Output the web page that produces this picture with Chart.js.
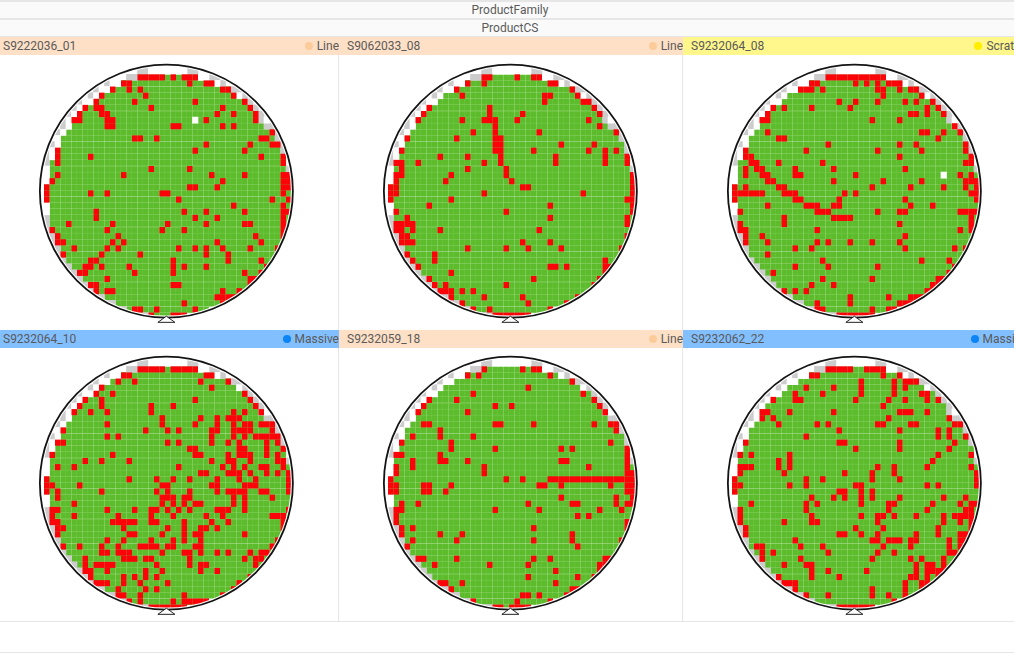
<!DOCTYPE html>
<html><head><meta charset="utf-8">
<script src="https://cdn.jsdelivr.net/npm/chart.js@4"></script>
<style>
html,body{margin:0;padding:0;background:#fff;width:1014px;height:653px;overflow:hidden;font-family:Roboto,sans-serif;color:#5a5a5a;font-size:12px}
#page{position:relative;width:1014px;height:653px;overflow:hidden}
.strip{position:absolute;left:0;width:1020px;height:17px;line-height:17px;text-align:center;background:#fafafa;border-top:1px solid #e6e6e6;box-sizing:content-box}
.head{position:absolute;height:18px;line-height:18px;z-index:3;overflow:hidden}
.head .id{position:absolute;top:0}
.head .tag{position:absolute;right:0;top:0;white-space:nowrap}
.head .dot{display:inline-block;width:8px;height:8px;border-radius:50%;margin-right:4px;vertical-align:0}
.vsep{position:absolute;width:1px;background:#e6e6e6;z-index:2}
.hsep{position:absolute;left:0;width:1014px;height:1px;background:#e6e6e6;z-index:2}
canvas{position:absolute;display:block}
</style></head><body><div id="page"></div>
<script>
const familyTitle = 'ProductFamily';
const csTitle = 'ProductCS';
const waferIds = ['S9222036_01','S9062033_08','S9232064_08','S9232064_10','S9232059_18','S9232062_22'];
const waferClasses = ['Line','Line','Scratch','Massive','Line','Massive'];
const classHeadColor = {Line:'#fee0c6',Scratch:'#fff68c',Massive:'#82bfff'};
const classDotColor = {Line:'#fccb9a',Scratch:'#ffee00',Massive:'#0b84f5'};

// Die map layout: first and last die column of each row (row 0 has only edge dies)
const rowStart = [null,17,14,12,10,9,7,6,5,5,4,3,3,2,2,1,1,1,1,0,0,0,1,1,1,1,1,2,2,3,3,4,5,6,7,8,9,11,13,15,19];
const rowEnd   = [null,27,30,33,34,36,37,38,38,39,41,41,42,42,43,43,43,44,44,44,44,44,44,44,44,44,43,43,43,42,42,41,40,40,38,37,36,34,32,29,25];
// Edge dies per row
const greyDies = [[17,18,26,27],[15,16,30,31],[11,32],[9,34,35],[8,36],[6,37],[5,38],[4,39],[3,39],[3,40,41],[2,42],[42],[1,43],[0,43],[0],[0],[44],[],[],[],[],[],[],[],[0],[0],[0],[0,1],[1],[1,2],[2],[3],[4],[5],[6],[7],[8],[9,10],[11,12],[13,14],[16,17,18]];
const whiteDies = [[19,20,21,22,23,24,25],[28,29],[12,13,31],[10,11],[9,35],[7,8],[6],[5],[4,40],[4],[3],[2],[2],[1],[1],[],[0],[0],[0],[],[],[],[0],[0],[],[],[],[],[],[],[],[],[],[],[],[],[],[],[],[],[]];
const extraWhite = [[[8,27]],[],[[17,38]],[],[],[]];

// Failing dies: column numbers per row, rows 0..40
const fail1 = [[],[17,18,19,20,21,23,25,26,27],[14,15,26,29,30],[12,15,17,32,33],[10,18,34],[9,16,27,36],[7,9,10,19,32,37],[6,10,11,31,34,38],[5,6,11,12,29,38],[11,12,23,24,32,34],[41],[16,17,20,39,40],[29,37,41,42],[2,27,36],[2,8,39,43],[2,43],[19,26],[2,14,30,36,43,44],[1,32,43,44],[0,26,27,31,43,44],[0,8,11,21,22,43],[0,24,41,44],[34,43],[9,25,29,36,43,44],[9,27,31,43],[4,12,22,29,36,37,43],[1,11,21,25,43],[2,13,38,43],[2,3,12,14,31,39],[5,11,13,24,27,29,32,37,42],[3,10,17,29,33],[8,9,23,33,39],[7,8,10,15,23,25,29,40],[6,7,16,23,36,39],[11,37,38],[8,9,23,24,37],[9,11,12,32,35],[31,32,33,34],[25,32],[16,17,20,27],[19,23,24,25]];
const fail2 = [[],[17,18,23,26,27],[14,17,29,30],[12,33],[13,28,29,34],[28,35,36],[7,18,37],[6,18,24,38],[5,13,17,18,19,23,36],[19,38],[15,19,27,41],[3,12,19,20],[19,20,31,37],[2,19,20,26,36,39,41],[9,14,20,30,39,43],[1,2,5,17,20,30,39,43],[2,14,21],[1,2,11,21,44],[1,10,22,44],[0,1,24,25,44],[0,1,17,35,44],[0,11,43,44],[7,29,44],[1,21,44],[3,29,43],[1,2,3,4,43],[1,2,4,9,27],[2,3,43],[2,3,4,24,29],[14,21,25,31,42],[3,8],[4,8,39],[5,29,30,32,39,40],[11,39],[7,26,38],[8,10,21,37],[9,10,11,13,15],[11,17,24,34],[13,25,32],[15,18,29],[19,20,21,22,23,24,25]];
const fail3 = [[],[17,18,19,20,21,22,23,24,25,26,27],[14,15,22,24,26,28,29,30],[12,13,14,16,26,27,30,32,33],[27,34],[19,22,26,31,33,36],[7,9,14,21,35,37],[6,32,33,35,38],[5,6,25,30],[40],[6,34,35,38,41],[8,9,37],[17,30,33,42],[2,13,26,34,42],[2,3,30,43],[3,4,8,16,42,43],[2,4,5,11,18,31],[2,5,6,11,12,22,41,43],[6,7,18,27,34,42,43,44],[0,2,8,9,25,32,38,42,44],[0,1,2,3,4,5,9,10,11,20,22,43,44],[0,11,12,19,31,44],[6,13,14,15,18,19,32,36],[1,15,16,17,26,30,31,41,42,43,44],[9,18,19,20,21,43],[1,9,30,43],[1,2,15,41,43],[2,5,31],[2,6,15,17,21,25,30],[11,14,31,40,42],[6],[16,34,39],[11,17,26,40],[7,39],[16,25,37,38],[14,18,36,37],[9,11,13,35,36],[21,28,32,33,34],[15,21,30,31,32,33],[15,16,25,28,29],[19,20,21,22,23,24,25]];
const fail4 = [[],[17,18,19,20,21,23,24,25,26,27],[14,15,29,30],[13,16,28,33],[10,30],[9,12,36],[7,10,27,37],[6,10,19,23,38],[5,8,11,19,34,36,39],[21,28,31,33,34,35],[11,21,27,31,34,36,37,39,40,41],[3,18,22,24,30,31,34,35,36,37,41],[11,13,30,34,36,38,39,40,41,42],[2,3,22,24,30,33,35,40,42],[26,27,35,36,40,43],[1,12,27,28,33,35,36,37,40,42],[7,10,15,30,33,34,37,42,43],[2,5,24,32,34,36,39,40,43],[28,29,33,34,35,37,40,42,44],[0,15,20,23,26,31,35,38,44],[0,1,6,21,22,30,31,36,37,38,44],[0,2,10,20,22,26,31,33,34,35,36,39,40,44],[2,21,22,23,25,26,34,36,41],[5,21,23,25,27,28,34,36],[1,2,11,16,19,20,22,24,26,31,32,33,36,44],[1,5,13,19,23,29,32,41,42,43],[1,2,12,13,14,15,16,19,20,25,30,33,43],[2,3,14,22,25,28,29,31,43],[2,15,16,21,25,27,28,36],[11,14,19,23,25,28,42],[3,6,10,13,17,18,19,20,22,23,27,28,41],[10,11,13,14,15,21,25,26,28,31,33,37,39,40],[7,14,15,16,18,19,26,36,38,39],[7,9,10,11,12,20,26,28,29,38],[7,8,11,18,21,28,31],[8,14,16,18,20,37],[9,10,11,14,17,22,35],[13,18,20,34],[13,14,17,25,32],[15,17,23,25,26,27,28,29],[19,20,21,22,23,24,25]];
const fail5 = [[],[17,24,26,27],[14,16,29],[33],[25],[15,35],[7,12,37],[6,19,22,38],[5,14,39],[],[6,7,19,20,26,37,40,41],[9,41],[4,9,15],[2,11,40],[11,19,31,33,43],[1,2,9,43],[4,9,10,14,31,32,43],[1,4,17,36,43],[1,17,43,44],[0,21,24,29,30,31,32,33,34,35,36,37,38,39,40,41,42,43,44],[0,1,6,7,11,27,28,31,40,43,44],[0,1,6,7,10,43,44],[31,41,44],[2,5,25,33,34,41,43,44],[1,2,19,27,38,42],[1,34,36],[1,43],[2,4,26,43],[2,9,13,33],[4,12,26,33,42],[3,34],[],[5,6,12,26,29,39,40],[8,18,25,38,39],[30,38],[25,34,37],[9,10,13,30],[11,33,34],[24,25,27,32],[15,23,29],[19,20,22,23,24,25]];
const fail6 = [[],[17,18,19,20,21,24,25,26,27],[14,15,27,30],[23,29,31,32,33],[13,18,23,29,31],[11,16,23,29,34,35],[7,11,12,22,28,31,35,37],[27],[5,6,10,18,30,31,32,35],[5,7,28,39],[8,15,17,26,27,32,33,40,41],[19,30,37,39],[13,37,39,42],[2,19,20,30,40],[22,30,39],[1,3,10,37,43],[8,10,36],[1,2,3,8,10,26,29,35,43],[1,9,20,25,29,44],[0,13,16,25,30,44],[0,1,10,13,22,23,35,37,44],[0,19,20,23,25],[14,18,20,23,25,30,38,42],[3,13,15,23,28,29,36,41,43,44],[1,13,28,35,42,43],[1,14,23,26,27,29,33,38,40,41,42,43],[1,9,14,15,26,38,41,43],[2,22,27,37,43],[2,19,20,23,26,33,37,41,42],[11,25,26,28,29,30,32,33,39,41,42],[4,5,12,16,27,32,39,41],[5,7,17,26,29,39,40],[5,12,25,32,34,38],[9,13,14,33,35,36,38],[14,17,24,33,35,36,37,38],[8,14,19,32,33,35,37],[9,10,11,31,34,35],[11,25,31,34],[13,17,25,28,31],[29],[19,20,21,22,23,24,25]];
const failRows = [fail1,fail2,fail3,fail4,fail5,fail6];

// Wafer outline and notch, in die units
const outlineCentre = [{x:21.75,y:19.62}];
const notchPath = [{x:20.2,y:41.1},{x:21.75,y:40.1},{x:23.3,y:41.1},{x:20.2,y:41.1}];

const page = document.getElementById('page');
function box(cls,css,parent){const d=document.createElement('div');d.className=cls;d.style.cssText=css;(parent||page).appendChild(d);return d;}
box('strip','top:1px').textContent=familyTitle;
box('strip','top:19px').textContent=csTitle;

const rowGap=292;
const die=(c,r)=>({x:[c-0.5,c+0.5],y:r});
const fromRows=rows=>rows.flatMap((cols,r)=>cols.map(c=>die(c,r)));

waferIds.forEach((id,i)=>{
  const col=i%3,row=Math.floor(i/3);
  const hx=[0,339,683][col], hw=[339,344,344][col], hy=37+row*rowGap+(row?1:0);
  const cls=waferClasses[i];
  const h=box('head',`left:${hx}px;top:${hy}px;width:${hw}px;background:${classHeadColor[cls]}`);
  const s=document.createElement('span');s.className='id';s.style.left=(col?8:3)+'px';s.textContent=id;h.appendChild(s);
  const t=document.createElement('span');t.className='tag';
  const d=document.createElement('span');d.className='dot';d.style.background=classDotColor[cls];t.appendChild(d);
  t.appendChild(document.createTextNode(cls));h.appendChild(t);

  const cv=document.createElement('canvas');
  cv.width=341;cv.height=281;
  cv.style.left=(col*344)+'px';cv.style.top=(56+row*rowGap)+'px';
  cv.style.width='341px';cv.style.height='281px';
  page.appendChild(cv);

  const green=[];
  rowStart.forEach((a,r)=>{if(a===null)return;for(let c=a;c<=rowEnd[r];c++)green.push(die(c,r));});
  const barBase={type:'bar',indexAxis:'y',grouped:false,barPercentage:1,categoryPercentage:1,borderWidth:0};
  new Chart(cv,{
    type:'bar',
    data:{datasets:[
      {type:'scatter',data:notchPath,showLine:true,fill:'shape',backgroundColor:'#fff',borderColor:'#222',borderWidth:1,pointRadius:0,order:0},
      {type:'scatter',data:outlineCentre,pointStyle:'circle',pointRadius:126.5,pointBorderWidth:1.8,pointBackgroundColor:'rgba(0,0,0,0)',pointBorderColor:'#141414',order:1},
      {type:'scatter',data:outlineCentre,pointStyle:'circle',pointRadius:137,pointBorderWidth:25,pointBackgroundColor:'rgba(0,0,0,0)',pointBorderColor:'#ffffff',order:2},
      {...barBase,data:fromRows(failRows[i]),backgroundColor:'#fb0409',inflateAmount:0,order:3},
      {...barBase,data:extraWhite[i].map(p=>die(p[1],p[0])),backgroundColor:'#ffffff',order:4},
      {...barBase,data:fromRows(whiteDies),backgroundColor:'#ffffff',order:5},
      {...barBase,data:fromRows(greyDies),backgroundColor:'#cccccc',order:6},
      {...barBase,data:green,backgroundColor:'#5cbc2c',borderColor:'#8ed26c',borderWidth:0.5,order:7}
    ]},
    options:{
      responsive:false,animation:false,events:[],indexAxis:'y',devicePixelRatio:1,
      layout:{padding:0,autoPadding:false},
      plugins:{legend:{display:false},tooltip:{enabled:false},title:{display:false}},
      scales:{
        x:{type:'linear',display:false,offset:false,min:-8.5,max:53.5},
        y:{type:'linear',display:false,offset:false,reverse:true,min:-2.5,max:43.5}
      }
    }
  });
});
[[338,37,584],[682,37,584]].forEach(v=>box('vsep',`left:${v[0]}px;top:${v[1]}px;height:${v[2]}px`));
[[0],[18],[36],[621],[652]].forEach(v=>box('hsep',`top:${v[0]}px`));
</script></body></html>
